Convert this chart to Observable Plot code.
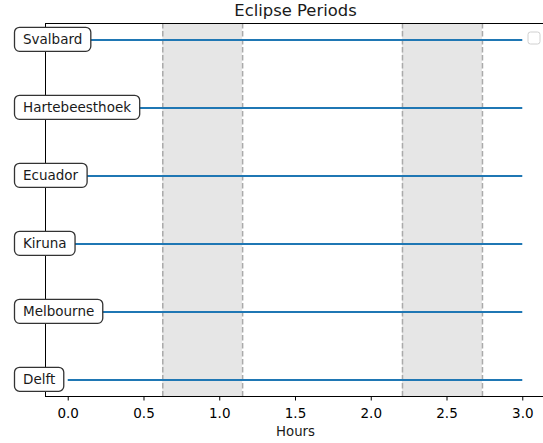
<!DOCTYPE html>
<html>
<head>
<meta charset="utf-8">
<script src="https://cdn.jsdelivr.net/npm/d3@7"></script>
<script src="https://cdn.jsdelivr.net/npm/@observablehq/plot@0.6"></script>
<style>
  html, body { margin: 0; padding: 0; background: #fff; overflow: hidden; }
  #chart svg { display: block; }
</style>
</head>
<body>
<div id="chart"></div>
<script>
// ---- data ----
const stations = ["Svalbard", "Hartebeesthoek", "Ecuador", "Kiruna", "Melbourne", "Delft"];
const passStart = [0, 0, 0, 0, 0, 0];
const passEnd = [3.0, 3.0, 3.0, 3.0, 3.0, 3.0];
const eclipseStart = [0.624, 2.206];
const eclipseEnd = [1.151, 2.734];
const xTicks = [0, 0.5, 1, 1.5, 2, 2.5, 3];
const titleText = ["Eclipse Periods"];
const xLabel = ["Hours"];

const rows = stations.map((s, i) => ({station: s, x1: passStart[i], x2: passEnd[i]}));
const eclipses = eclipseStart.map((s, i) => ({x1: s, x2: eclipseEnd[i]}));
const edges = eclipseStart.concat(eclipseEnd);

const font = "DejaVu Sans, sans-serif";

const plot = Plot.plot({
  width: 543,
  height: 443,
  marginLeft: 45,
  marginRight: -2,
  marginTop: 23,
  marginBottom: 47,
  style: {fontFamily: font, fontSize: "13px", background: "white", color: "black", overflow: "visible"},
  x: {domain: [-0.15, 3.15]},
  y: {type: "point", domain: stations, padding: 0.243, round: false, axis: null},
  marks: [
    Plot.rect(eclipses, {x1: "x1", x2: "x2", fill: "#e6e6e6"}),
    Plot.ruleX(edges, {stroke: "#aaaaaa", strokeWidth: 1.5, strokeDasharray: "5.5,2.5"}),
    Plot.frame({stroke: "black", strokeWidth: 1}),
    Plot.axisX({ticks: xTicks, tickFormat: d3.format(".1f"), tickSize: 4.5, tickPadding: 7, label: null, fontSize: 13.5}),
    Plot.ruleY(rows, {y: "station", x1: "x1", x2: "x2", stroke: "#1f77b4", strokeWidth: 2}),
    Plot.text(rows, {y: "station", text: "station", frameAnchor: "left", textAnchor: "start", dx: -22.5, fontSize: 13.5, fill: "#1a1a1a"}),
    Plot.text(titleText, {text: d => d, frameAnchor: "top", dy: -19, fontSize: 16.4, fill: "#1a1a1a"}),
    Plot.text(xLabel, {text: d => d, frameAnchor: "bottom", dy: 39.5, fontSize: 13.3, fill: "#1a1a1a"})
  ]
});

document.getElementById("chart").appendChild(plot);

// rounded label boxes behind station texts
const ns = "http://www.w3.org/2000/svg";
const labelTexts = Array.from(plot.querySelectorAll("text")).filter(t => stations.includes(t.textContent));
if (labelTexts.length) {
  const g = labelTexts[0].parentNode;
  const boxes = document.createElementNS(ns, "g");
  g.parentNode.insertBefore(boxes, g);
  const gt = g.getAttribute("transform");
  if (gt) boxes.setAttribute("transform", gt);
  labelTexts.forEach(t => {
    const b = t.getBBox();
    const tt = t.getAttribute("transform");
    const r = document.createElementNS(ns, "rect");
    const cy = b.y + b.height / 2;
    r.setAttribute("x", b.x - 8.5);
    r.setAttribute("y", cy - 12);
    r.setAttribute("width", b.width + 17);
    r.setAttribute("height", 24);
    r.setAttribute("rx", 5);
    r.setAttribute("fill", "white");
    r.setAttribute("stroke", "#333");
    r.setAttribute("stroke-width", 1.3);
    if (tt) r.setAttribute("transform", tt);
    boxes.appendChild(r);
  });
}

// empty legend box (upper right), as in the original figure
const xs = plot.scale("x");
const legend = document.createElementNS(ns, "rect");
legend.setAttribute("x", xs.range[1] - 17);
legend.setAttribute("y", 32);
legend.setAttribute("width", 12);
legend.setAttribute("height", 12);
legend.setAttribute("rx", 2.5);
legend.setAttribute("fill", "white");
legend.setAttribute("stroke", "#d0d0d0");
legend.setAttribute("stroke-width", 1);
plot.appendChild(legend);
</script>
</body>
</html>
